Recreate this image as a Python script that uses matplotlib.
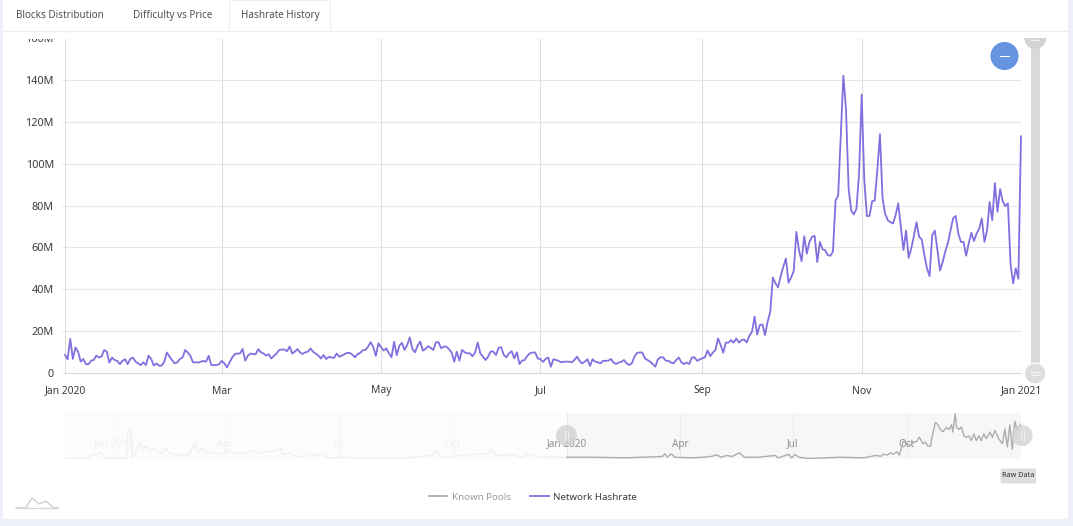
import matplotlib
matplotlib.use("Agg")
import matplotlib.pyplot as plt
import pandas as pd
from matplotlib.lines import Line2D
from matplotlib.patches import Circle, FancyBboxPatch, Rectangle

plt.rcParams['font.family'] = ['Noto Sans', 'DejaVu Sans']

W, H = 1073, 526

# daily network hashrate in millions, 2020-01-01 onwards
hash_q1 = [8.6, 6.5, 16.3, 6.7, 12.2, 10.2, 5.4, 6.7, 4.2, 4.2,
           5.9, 6.2, 8.3, 7.4, 7.8, 11, 10.2, 5, 7.4, 6.2,
           5.8, 4.2, 5.8, 6.6, 4.2, 6.7, 7.4, 5.4, 4.6, 3.8,
           5.1, 3.8, 8.3, 6.7, 3.5, 4.6, 3.5, 3.5, 5.4, 9.8,
           7.8, 6.2, 4.6, 5.1, 6.7, 7.4, 11, 9.8, 8.2, 5.1,
           5.1, 5, 5.4, 5.8, 5.4, 8.2, 3.8, 3.8, 3.8, 4.2,
           5.8, 4.6, 2.7, 5, 7.4, 9, 9.3, 9.3, 11.5, 5.9,
           8.3, 9.3, 9, 9, 11.4, 9.9, 9.3, 8.3, 9, 6.9,
           8.2, 9.3, 11, 11.2, 11.2, 10.4, 12.6, 9.3, 10.2, 11.4,
           9.8, 9.1, 9.9, 10.2, 11.7, 10.1, 9.3, 8.3, 6.9, 8.6,
           6.7, 7.7, 7.4, 7.2, 9.3, 7.8, 8.3, 9, 9.6, 9.6,
           8.8, 7.5, 9, 9.6, 10.9, 11, 12.5, 14.7, 12.6, 8.2,
           14.2]
hash_may_jun = [12.3, 10.7, 11.8, 9.4, 7.5, 14.9, 8.5, 13, 14.4, 11,
                13.4, 17, 11.4, 9.9, 13.1, 15, 10.7, 11.5, 12.8, 12,
                11, 14.6, 14.7, 11.8, 12.6, 12.6, 11.4, 9.8, 5.4, 10.2,
                5.9, 11, 9.9, 9.4, 9.4, 8, 9.8, 14.6, 9.4, 7.8,
                6.2, 7.8, 10.4, 10.2, 8.6, 12, 12.3, 8.6, 7.5, 9.4,
                10.4, 7, 9.9, 4.3, 5.9, 6.2, 8.2, 9.4, 9.8, 9.8,
                6.9]
hash_jul_aug = [6.7, 5.3, 6.7, 7.4, 3, 6.6, 6.2, 5.8, 5.1, 5.4,
                5.4, 5.4, 5.1, 6.2, 7.8, 5.8, 4.6, 5.4, 6.6, 3.4,
                6.6, 5.4, 5.1, 4.6, 5.8, 5.8, 5.9, 6.7, 5, 4.3,
                5, 5.3, 6.2, 4.6, 3.8, 4.6, 7.8, 9.6, 9.8, 9.8,
                7, 6.2, 5.4, 4.3, 3, 6.6, 7.5, 7.5, 5.9, 5.8,
                5, 4.6, 6.2, 7.4, 5, 4.3, 5, 4.3, 7.4, 7.5,
                5.8, 6.5]
hash_sep_dec = [7, 7.5, 10.7, 8.1, 9.7, 11, 16.5, 13.4, 9.7, 14.5,
                14.5, 15.7, 14.5, 16.5, 14.5, 15.7, 16, 14.6, 17.8, 19.7,
                26.9, 18.4, 22.9, 23.2, 18.1, 24.5, 29.3, 45.6, 42.8, 40.9,
                46.3, 50.7, 54.7, 43.1, 45.6, 48.8, 67.4, 58.7, 53.4, 65.3,
                57, 62.6, 65, 65.5, 53, 62.6, 59.1, 58.7, 56.3, 56,
                57.9, 82.4, 84.8, 114, 142, 126, 88, 77.6, 75.7, 78.4,
                95, 133, 92, 75, 75, 82, 82.4, 97, 114, 83.5,
                76, 73, 72, 71.4, 75.4, 81, 70, 58.7, 68, 55,
                59.5, 65.5, 72, 65, 63.8, 56.3, 50, 46.3, 65.8, 68,
                58.7, 49, 53, 58, 62, 68, 73.8, 75, 66.6, 62.6,
                62.6, 56, 62, 67, 63, 66.6, 69, 73.8, 62.6, 68,
                81.7, 73, 90.7, 77, 87.8, 82, 79.7, 81, 52, 42.8,
                50, 45, 113]
hashrate = hash_q1 + hash_may_jun + hash_jul_aug + hash_sep_dec
hash_dates = pd.date_range("2020-01-01", periods=len(hashrate), freq="D")

y_ticks = [0, 20, 40, 60, 80, 100, 120, 140, 160]
y_labels = ["0", "20M", "40M", "60M", "80M", "100M", "120M", "140M", "160M"]
x_ticks = ["2020-01-01", "2020-03-01", "2020-05-01", "2020-07-01",
           "2020-09-01", "2020-11-01", "2021-01-01"]
x_labels = ["Jan 2020", "Mar", "May", "Jul", "Sep", "Nov", "Jan 2021"]

# overview strip: days since 2018-11-22 and the series shown there
mini_days = [0, 19, 22, 26, 29, 31, 34, 50, 51, 53, 55, 57, 58, 61, 63, 66, 69, 73, 76, 78,
             82, 85, 89, 93, 100, 102, 105, 107, 111, 113, 116, 123, 129, 132, 136, 142, 147,
             152, 155, 159, 168, 174, 176, 182, 190, 197, 202, 209, 212, 229, 237, 270, 282,
             296, 300, 304, 309, 321, 332, 340, 344, 348, 360, 368, 376, 382,
             405, 425, 452, 482, 484, 486, 489, 492, 507, 521, 526, 529, 534, 538, 544, 548,
             559, 573, 575, 584, 586, 589, 592, 600, 614, 625, 644, 654,
             658, 660, 663, 666, 668, 671, 673, 675, 676, 679, 682, 684, 687, 689, 692, 694,
             696, 698, 699, 702, 704, 706, 708, 711, 713, 715, 716, 718, 719, 721, 723, 725,
             727, 729, 731, 733, 735, 737, 739, 741, 743, 746, 748, 750, 753, 756, 758, 760,
             762, 764, 766, 768, 771]
mini_vals = [0, 0, 11.5, 13.7, 18.9, 13.7, 1, 1, 87, 89, 1, 12.6, 34, 50, 32.5, 36.8, 26, 29, 19, 13.7,
             32.5, 15.7, 13.7, 10.5, 13.7, 24, 50, 19, 34.6, 19, 22, 13.7, 19, 29, 15.7, 15.7, 19,
             26, 15.7, 20, 23.5, 31, 15, 15, 4, 15, 9.6, 15, 2, 4, 0, 0, 4,
             9.6, 23.5, 4, 4, 11.8, 12.8, 15, 27.8, 9.6, 11.8, 4, 15, 4,
             4, 4, 2, 6.4, 15, 4, 15, 4, 2, 6.4, 12, 4, 9.6, 6.4, 18, 4,
             4, 9.6, 2, 13, 2, 13, 4, 0, 2, 4, 2, 9.6,
             7, 13.6, 10.5, 18, 13.6, 21, 10.5, 40, 54.6, 47, 42, 50, 54.6, 68, 47, 52,
             39, 39, 63, 115, 107, 92, 85, 99, 92, 107, 84, 142, 100, 92, 100, 72,
             67, 72, 57, 78, 57, 72, 57, 78, 63, 84, 67, 89, 63, 47, 94, 37,
             107, 29, 118, 90, 110]
mini_start = pd.Timestamp("2018-11-22")
mini_ticks = ["2019-01-01", "2019-04-01", "2019-07-01", "2019-10-01",
              "2020-01-01", "2020-04-01", "2020-07-01", "2020-10-01"]
mini_labels = ["Jan 2019", "Apr", "Jul", "Oct", "Jan 2020", "Apr", "Jul", "Oct"]
zoom_start = 405  # first day of the selected window


def box(left, top, right, bottom):
    return [left / W, 1 - bottom / H, (right - left) / W, (bottom - top) / H]


fig = plt.figure(figsize=(W / 100, H / 100), dpi=100, facecolor="#edf0f7")

# white card
bg = fig.add_axes([0, 0, 1, 1], zorder=0)
bg.set_xlim(0, W)
bg.set_ylim(H, 0)
bg.axis("off")
bg.add_patch(Rectangle((3, 0), 1065, 519, fc="white", ec="none"))

# main chart
ax = fig.add_axes(box(65, 38, 1021, 373), zorder=1)
ax.patch.set_alpha(0)
ax.plot(hash_dates, hashrate, color="#8070e0", lw=1.3, zorder=3, clip_on=False)
ax.set_xlim(pd.Timestamp("2020-01-01"), pd.Timestamp("2021-01-01"))
ax.set_ylim(0, 160)
ax.set_yticks(y_ticks)
ax.set_yticklabels(y_labels)
ax.set_xticks(pd.to_datetime(x_ticks))
ax.set_xticklabels(x_labels)
ax.grid(axis="y", color="#e6e6e6", lw=0.8)
ax.grid(axis="x", color="#dedede", lw=0.8)
ax.tick_params(axis="y", length=2, color="#e6e6e6", labelsize=7.8, labelcolor="#3c3c3c", pad=6)
ax.tick_params(axis="x", length=0, labelsize=7.4, labelcolor="#3c3c3c", pad=9)
for side in ["top", "left", "right"]:
    ax.spines[side].set_visible(False)
ax.spines["bottom"].set_color("#d8d8d8")

# overview strip under the chart
mini = fig.add_axes(box(64.5, 412.5, 1021, 458.5), zorder=1)
mini.patch.set_alpha(0)
mini_x = [mini_start + pd.Timedelta(days=d) for d in mini_days]
split = mini_days.index(zoom_start)
mini.axvspan(mini_start, mini_x[split], color="#fcfcfc", lw=0, zorder=0)
mini.axvspan(mini_x[split], mini_x[-1], color="#f7f7f7", lw=0, zorder=0)
mini.plot(mini_x[:split + 1], mini_vals[:split + 1], color="#f0f0f0", lw=1.0, zorder=3)
mini.plot(mini_x[split:], mini_vals[split:], color="#adadad", lw=1.0, zorder=3)
mini.set_xlim(mini_start, mini_x[-1])
mini.set_ylim(0, 146)
mini.axis("off")
for tick, label in zip(mini_ticks, mini_labels):
    t = pd.Timestamp(tick)
    selected = t >= mini_x[split]
    mini.axvline(t, color="#ebebeb" if selected else "#f6f6f6", lw=0.7, zorder=1)
    mini.text(t, 46, label, ha="center", va="center", fontsize=7.2,
              color="#8e8e8e" if selected else "#f0f0f0", zorder=2)

# everything that sits around the plots
top = fig.add_axes([0, 0, 1, 1], zorder=5)
top.set_xlim(0, W)
top.set_ylim(H, 0)
top.axis("off")
top.patch.set_alpha(0)

# vertical slider, its upper cap is cut flat by the white band drawn next
top.add_patch(Rectangle((1031, 38), 8.5, 335, fc="#d9d9d9", ec="none"))
top.add_patch(Circle((1035.2, 38), 11, fc="#d4d4d4", ec="none"))
top.plot([1031, 1039], [39.5, 39.5], color="#f2f2f2", lw=0.8)
top.add_patch(Circle((1035.2, 373.5), 10.5, fc="#dddddd", ec="white", lw=0.8))
top.plot([1030.5, 1040], [372, 372], color="#f5f5f5", lw=0.8)
top.plot([1030.5, 1040], [375, 375], color="#f5f5f5", lw=0.8)

# tab bar, this also hides the upper part of the top tick label
top.add_patch(Rectangle((3, 0), 1018, 38.8, fc="white", ec="none"))
top.add_patch(Rectangle((1021, 0), 47, 38, fc="white", ec="none"))
top.plot([3, 1068], [30.5, 30.5], color="#efefef", lw=0.8)
top.plot([228.5, 228.5, 329.5, 329.5], [30.5, 0, 0, 30.5], color="#efefef", lw=0.8)
top.add_patch(Rectangle((229, 29), 100, 3, fc="white", ec="none"))
top.text(16, 15.5, "Blocks Distribution", fontsize=7.1, color="#505050", va="center")
top.text(133, 15.5, "Difficulty vs Price", fontsize=7.1, color="#505050", va="center")
top.text(241, 15.5, "Hashrate History", fontsize=7.1, color="#505050", va="center")

# zoom out button
top.add_patch(Circle((1004.5, 56), 14, fc="#6694e0", ec="none"))
top.plot([1000, 1009], [55.5, 55.5], color="white", lw=0.8)

# range handles of the overview strip
for cx in [566.5, 1022]:
    top.add_patch(Circle((cx, 435.5), 10.5, fc="#d2d2d2", ec="none", alpha=0.8))
    top.plot([cx - 1.5, cx - 1.5], [431, 440], color="#f0f0f0", lw=0.7)
    top.plot([cx + 1.5, cx + 1.5], [431, 440], color="#f0f0f0", lw=0.7)

# raw data tooltip
top.add_patch(FancyBboxPatch((1002, 470), 32.5, 12, boxstyle="round,pad=1.5,rounding_size=2",
                             fc="#dedede", ec="none"))
top.text(1018, 475.5, "Raw Data", fontsize=5.2, color="#333333", ha="center", va="center")

# small logo bottom left
top.plot([16, 26, 32, 39, 46, 53, 58], [508, 507.5, 498, 504, 501, 507.5, 508], color="#cccccc", lw=0.9)
top.plot([16, 58], [508, 508], color="#d5d5d5", lw=0.9)

handles = [Line2D([], [], color="#ababab", lw=1.3), Line2D([], [], color="#8070e0", lw=1.3)]
leg = fig.legend(handles, ["Known Pools", "Network Hashrate"], loc="center",
                 bbox_to_anchor=(533 / W, 1 - 497 / H), ncol=2, frameon=False, fontsize=7.0,
                 handlelength=1.9, handletextpad=0.45, columnspacing=2.0)
leg.get_texts()[0].set_color("#9a9a9a")
leg.get_texts()[1].set_color("#3c3c3c")
leg.set_zorder(6)

fig.savefig("out.png", dpi=100)
